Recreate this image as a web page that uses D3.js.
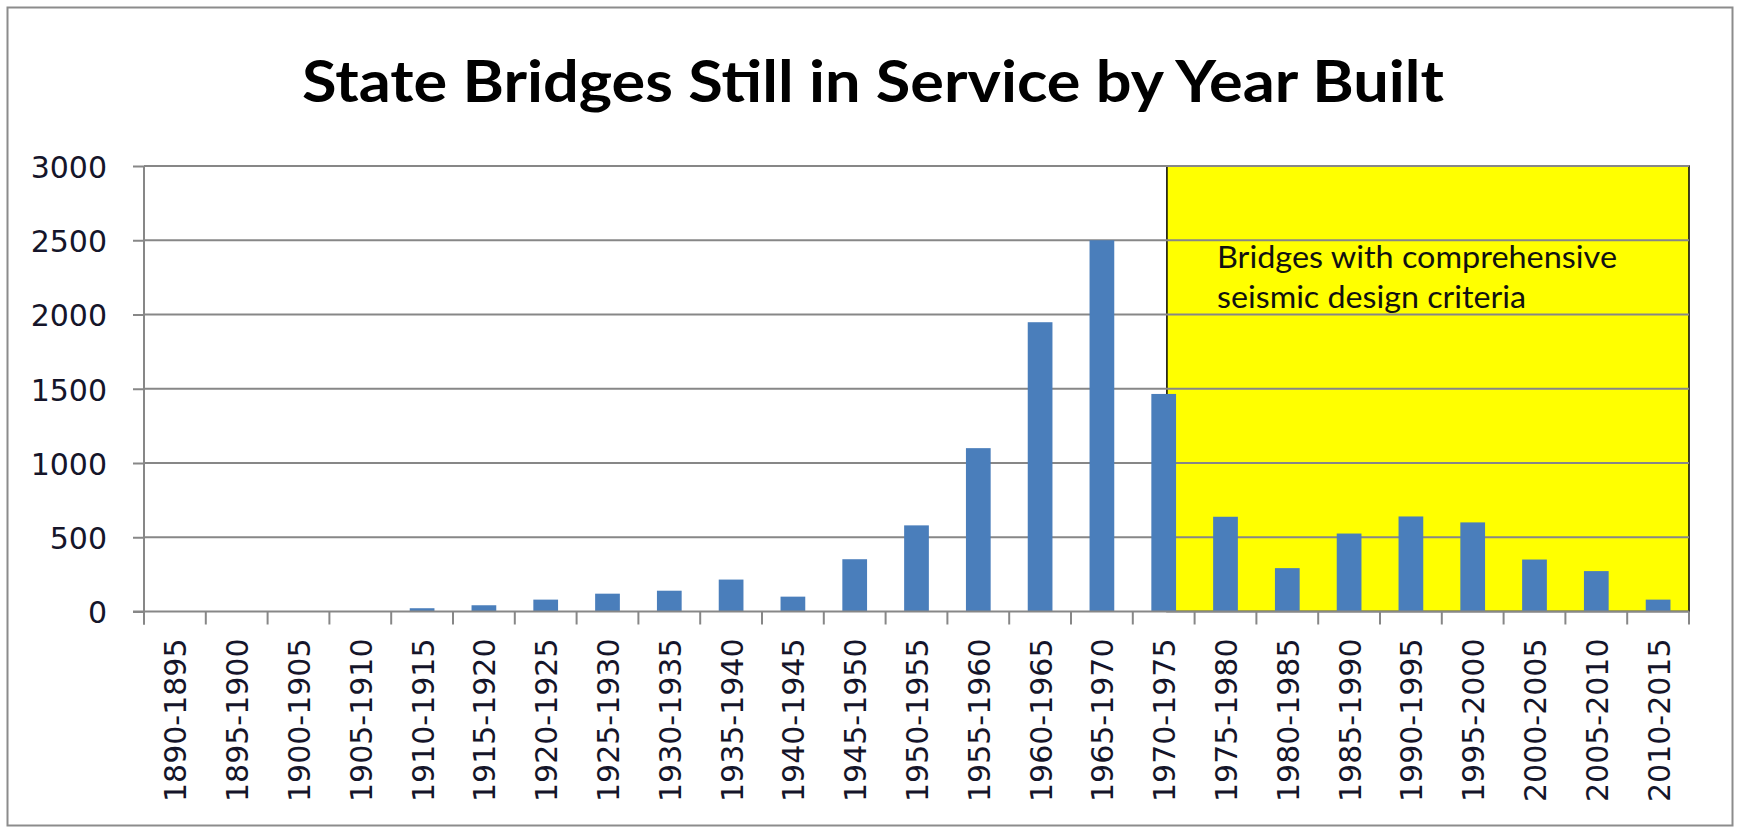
<!DOCTYPE html>
<html>
<head>
<meta charset="utf-8">
<script src="https://cdn.jsdelivr.net/npm/d3@7"></script>
<style>
    html, body { margin: 0; padding: 0; background: #ffffff; }
    svg { display: block; }
</style>
</head>
<body>
<div id="chart"></div>
<script>
// data
const categories = ["1890-1895", "1895-1900", "1900-1905", "1905-1910", "1910-1915", "1915-1920",
    "1920-1925", "1925-1930", "1930-1935", "1935-1940", "1940-1945", "1945-1950", "1950-1955",
    "1955-1960", "1960-1965", "1965-1970", "1970-1975", "1975-1980", "1980-1985", "1985-1990",
    "1990-1995", "1995-2000", "2000-2005", "2005-2010", "2010-2015"];
const bridges = [0, 0, 0, 0, 22, 42, 80, 120, 140, 215, 100, 352, 580, 1100, 1948, 2500, 1465,
    638, 292, 525, 640, 600, 350, 272, 80];
const yTicks = [0, 500, 1000, 1500, 2000, 2500, 3000];
const chartTitle = "State Bridges Still in Service by Year Built";
const noteLines = ["Bridges with comprehensive", "seismic design criteria"];
const seismicStart = "1970-1975";

const width = 1739, height = 828;
const plot = { left: 144, right: 1689, top: 166, bottom: 611.5 };

const svg = d3.select("#chart")
    .append("svg")
    .attr("width", width)
    .attr("height", height);

// outer chart frame
svg.append("rect")
    .attr("x", 7.5).attr("y", 7.5)
    .attr("width", 1725).attr("height", 818)
    .attr("fill", "#ffffff")
    .attr("stroke", "#8c8c8c")
    .attr("stroke-width", 2);

const x = d3.scaleBand()
    .domain(categories)
    .range([plot.left, plot.right])
    .paddingInner(0.6)
    .paddingOuter(0.3);

const y = d3.scaleLinear()
    .domain([0, 3000])
    .range([plot.bottom, plot.top]);

// title
svg.append("text")
    .attr("x", 873)
    .attr("y", 102)
    .attr("text-anchor", "middle")
    .attr("textLength", 1142)
    .attr("lengthAdjust", "spacingAndGlyphs")
    .style("font-family", "Lato, 'Open Sans', sans-serif")
    .style("font-weight", "bold")
    .style("font-size", "58px")
    .style("fill", "#000")
    .text(chartTitle);

// yellow highlight box for the seismic era
const boxLeft = x(seismicStart) + x.bandwidth() * 0.63;
svg.append("rect")
    .attr("x", boxLeft)
    .attr("y", y(3000))
    .attr("width", plot.right - boxLeft)
    .attr("height", y(0) - y(3000))
    .attr("fill", "#ffff00")
    .attr("stroke", "#000")
    .attr("stroke-width", 1.5);

// gridlines
svg.append("g")
    .selectAll("line")
    .data(yTicks.slice(1))
    .join("line")
    .attr("x1", plot.left)
    .attr("x2", plot.right)
    .attr("y1", d => y(d))
    .attr("y2", d => y(d))
    .attr("stroke", "#878787")
    .attr("stroke-width", 2);

// annotation
svg.append("g")
    .selectAll("text")
    .data(noteLines)
    .join("text")
    .attr("x", 1217)
    .attr("y", (d, i) => 268 + i * 40)
    .attr("textLength", (d, i) => i === 0 ? 400 : 309)
    .attr("lengthAdjust", "spacingAndGlyphs")
    .style("font-family", "Lato, 'Open Sans', sans-serif")
    .style("font-size", "30px")
    .style("fill", "#111")
    .text(d => d);

// bars
svg.append("g")
    .selectAll("rect")
    .data(categories)
    .join("rect")
    .attr("x", d => x(d))
    .attr("width", x.bandwidth())
    .attr("y", (d, i) => y(bridges[i]))
    .attr("height", (d, i) => y(0) - y(bridges[i]))
    .attr("fill", "#4a7ebb");

// y axis
const yAxis = svg.append("g")
    .attr("transform", `translate(${plot.left},0)`)
    .call(d3.axisLeft(y).tickValues(yTicks).tickSize(11).tickPadding(26).tickFormat(d3.format("d")));
yAxis.select(".domain").attr("stroke", "#878787").attr("stroke-width", 2)
    .attr("d", `M0,${plot.top}V${plot.bottom + 13}`);
yAxis.selectAll(".tick line").attr("stroke", "#878787").attr("stroke-width", 2);
yAxis.selectAll(".tick text")
    .attr("dy", "0.38em")
    .style("font-family", "'DejaVu Sans', Verdana, sans-serif")
    .style("font-size", "30px")
    .style("fill", "#15152a");

// x axis: baseline, boundary ticks, rotated labels
const xAxis = svg.append("g")
    .attr("transform", `translate(0,${plot.bottom})`)
    .call(d3.axisBottom(x).tickSize(0).tickPadding(0));
xAxis.select(".domain").attr("stroke", "#878787").attr("stroke-width", 2)
    .attr("d", `M${plot.left - 11},0H${plot.right}`);
xAxis.selectAll(".tick text")
    .attr("transform", "rotate(-90)")
    .attr("text-anchor", "end")
    .attr("x", -27)
    .attr("y", 0)
    .attr("dy", "0.38em")
    .attr("dx", 0)
    .style("font-family", "'DejaVu Sans', Verdana, sans-serif")
    .style("font-size", "30px")
    .style("fill", "#15152a");

xAxis.append("g")
    .selectAll("line")
    .data(d3.range(categories.length + 1))
    .join("line")
    .attr("x1", i => plot.left + i * x.step())
    .attr("x2", i => plot.left + i * x.step())
    .attr("y1", 0)
    .attr("y2", 13)
    .attr("stroke", "#878787")
    .attr("stroke-width", 2);
</script>
</body>
</html>
